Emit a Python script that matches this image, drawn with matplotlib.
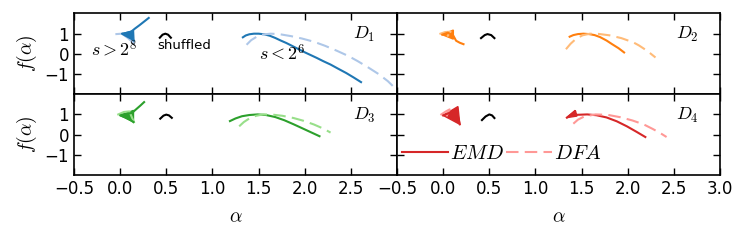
import matplotlib
matplotlib.use("Agg")
import matplotlib.pyplot as plt
from matplotlib.lines import Line2D

plt.rcParams['mathtext.fontset'] = 'cm'
plt.rcParams['font.family'] = ['DejaVu Sans']

panel_names = ["$D_1$", "$D_2$", "$D_3$", "$D_4$"]
emd_colors = ["#1f77b4", "#ff7f0e", "#2ca02c", "#d62728"]
dfa_colors = ["#aec7e8", "#ffbb78", "#98df8a", "#ff9896"]

# small-scale spectra (s < 2^6), EMD solid
emd_alpha = [
    [1.33, 1.36, 1.40, 1.45, 1.50, 1.56, 1.62, 1.68, 1.74, 1.80, 1.87, 1.93,
     1.99, 2.06, 2.13, 2.20, 2.28, 2.36, 2.45, 2.53, 2.61],
    [1.37, 1.41, 1.46, 1.52, 1.58, 1.64, 1.70, 1.77, 1.83, 1.90, 1.96],
    [1.19, 1.25, 1.32, 1.40, 1.49, 1.58, 1.68, 1.78, 1.88, 1.98, 2.07, 2.16],
    [1.34, 1.43, 1.42, 1.45, 1.56, 1.66, 1.77, 1.88, 1.99, 2.09, 2.19],
]
emd_f = [
    [0.82, 0.91, 0.97, 1.00, 1.00, 0.97, 0.90, 0.79, 0.66, 0.54, 0.38, 0.24,
     0.10, -0.05, -0.20, -0.36, -0.53, -0.73, -0.95, -1.17, -1.40],
    [0.85, 0.93, 0.98, 1.00, 0.98, 0.93, 0.83, 0.66, 0.48, 0.28, 0.07],
    [0.67, 0.80, 0.91, 0.97, 1.00, 0.97, 0.87, 0.71, 0.51, 0.30, 0.11, -0.08],
    [0.84, 1.16, 0.95, 0.98, 1.00, 0.96, 0.85, 0.66, 0.41, 0.15, -0.12],
]
# DFA dashed
dfa_alpha = [
    [1.37, 1.42, 1.48, 1.55, 1.63, 1.72, 1.85, 1.97, 2.10, 2.22, 2.35, 2.47,
     2.57, 2.68, 2.80, 2.90, 2.99],
    [1.33, 1.38, 1.44, 1.51, 1.59, 1.68, 1.80, 1.93, 2.06, 2.12, 2.18, 2.24,
     2.30],
    [1.29, 1.34, 1.40, 1.47, 1.55, 1.65, 1.76, 1.88, 1.99, 2.10, 2.20, 2.28],
    [1.41, 1.46, 1.53, 1.65, 1.78, 1.92, 2.05, 2.17, 2.27, 2.35, 2.42],
]
dfa_f = [
    [0.45, 0.68, 0.85, 0.96, 1.00, 0.98, 0.88, 0.76, 0.60, 0.40, 0.15, -0.10,
     -0.35, -0.65, -1.00, -1.35, -1.75],
    [0.23, 0.50, 0.75, 0.92, 1.00, 0.99, 0.92, 0.78, 0.57, 0.42, 0.24, 0.04,
     -0.18],
    [0.41, 0.62, 0.80, 0.93, 1.00, 0.99, 0.93, 0.82, 0.68, 0.50, 0.30, 0.10],
    [0.54, 0.74, 0.90, 1.00, 0.98, 0.86, 0.70, 0.51, 0.28, 0.08, -0.12],
]

# large-scale spectra (s > 2^8)
big_emd_alpha = [
    [0.31, 0.26, 0.21, 0.16, 0.12, 0.07, 0.04, 0.02, 0.06, 0.10, 0.14, 0.15],
    [-0.01, 0.05, 0.11, 0.14, 0.18, 0.22],
    [0.26, 0.22, 0.18, 0.13, 0.08, 0.04, 0.00, 0.06, 0.11, 0.145],
    [0.00, 0.08, 0.16, 0.17, 0.18],
]
big_emd_f = [
    [1.78, 1.60, 1.42, 1.25, 1.10, 1.04, 1.01, 1.00, 0.90, 0.80, 0.70, 0.65],
    [0.95, 1.05, 0.90, 0.65, 0.55, 0.48],
    [1.61, 1.44, 1.28, 1.08, 1.03, 1.00, 0.95, 0.85, 0.73, 0.62],
    [0.95, 1.10, 0.90, 0.70, 0.51],
]
# filled fans of overlapping EMD spectra
fan_alpha = [
    [0.02, 0.145, 0.15],
    [-0.01, 0.11, 0.11],
    [0.00, 0.145, 0.145],
    [0.00, 0.16, 0.18],
    [1.34, 1.43, 1.45],
]
fan_f = [
    [1.00, 1.15, 0.65],
    [0.95, 1.18, 0.73],
    [0.95, 1.20, 0.62],
    [0.95, 1.39, 0.51],
    [0.84, 1.20, 0.92],
]
fan_panel = [0, 1, 2, 3, 3]
big_dfa_alpha = [
    [-0.04, 0.02, 0.08, 0.15],
    [-0.03, 0.02, 0.08, 0.05],
    [-0.02, 0.04, 0.10, 0.15],
    [-0.02, 0.03, 0.07, 0.04],
]
big_dfa_f = [
    [0.98, 1.00, 0.80, 0.52],
    [1.00, 1.08, 1.10, 0.90],
    [1.00, 1.12, 1.15, 0.62],
    [1.00, 1.15, 1.25, 0.95],
]
# shuffled spectra
shuf_alpha = [
    [0.43, 0.46, 0.49, 0.52, 0.55],
    [0.41, 0.45, 0.48, 0.52, 0.555],
    [0.435, 0.47, 0.50, 0.53, 0.56],
    [0.42, 0.46, 0.50, 0.53, 0.555],
]
shuf_f = [
    [0.80, 0.95, 1.00, 0.95, 0.80],
    [0.78, 0.93, 0.98, 0.93, 0.78],
    [0.79, 0.94, 0.99, 0.95, 0.83],
    [0.72, 0.90, 1.00, 0.95, 0.82],
]

xticks = [-0.5, 0.0, 0.5, 1.0, 1.5, 2.0, 2.5, 3.0]
yticks = [-1, 0, 1]

fig, axes = plt.subplots(2, 2, figsize=(7.47, 2.41), dpi=100)
fig.subplots_adjust(left=0.099, right=0.964, top=0.944, bottom=0.274,
                    wspace=0, hspace=0)
dash = (0, (6, 3))
axl = list(axes.flat)

for i, ax in enumerate(axl):
    r, c = divmod(i, 2)
    ax.plot(emd_alpha[i], emd_f[i], color=emd_colors[i], lw=1.5)
    ax.plot(dfa_alpha[i], dfa_f[i], color=dfa_colors[i], lw=1.5, ls=dash)
    ax.plot(big_dfa_alpha[i], big_dfa_f[i], color=dfa_colors[i], lw=1.5)
    ax.plot(big_emd_alpha[i], big_emd_f[i], color=emd_colors[i], lw=1.5)
    ax.plot(shuf_alpha[i], shuf_f[i], color='black', lw=1.5)
    ax.set_xlim(-0.5, 3.0)
    ax.set_ylim(-2, 2)
    ax.set_yticks(yticks)
    if c == 0:
        ax.set_xticks(xticks[:-1])
        ax.set_ylabel(r"$f(\alpha)$", fontsize=14)
    else:
        ax.set_xticks(xticks)
        ax.tick_params(labelleft=False)
    if r == 0:
        ax.tick_params(labelbottom=False)
    else:
        ax.set_xlabel(r"$\alpha$", fontsize=14, labelpad=7)
    ax.tick_params(direction='in', length=5, width=1, top=True, right=True,
                   labelsize=12)
    for s in ax.spines.values():
        s.set_linewidth(1.2)
    ax.text(2.52, 0.72, panel_names[i], fontsize=13, va='baseline')

for k, p in enumerate(fan_panel):
    axl[p].fill(fan_alpha[k], fan_f[k], color=emd_colors[p], lw=1.0)

ax1 = axes[0, 0]
ax1.text(-0.32, -0.12, r"$s>2^8$", fontsize=13, va='baseline')
ax1.text(1.51, -0.32, r"$s<2^6$", fontsize=13, va='baseline')
ax1.text(0.40, 0.23, "shuffled", fontsize=9.5, va='baseline')

ax4 = axes[1, 1]
handles = [Line2D([], [], color=emd_colors[3], lw=1.5),
           Line2D([], [], color=dfa_colors[3], lw=1.5, ls=dash)]
ax4.legend(handles, ["$EMD$", "$DFA$"], ncol=2, frameon=False,
           fontsize=15, handlelength=2.2, handletextpad=0.1,
           columnspacing=0.1, loc='center left',
           bbox_to_anchor=(-0.01, 0.27), borderaxespad=0)

fig.savefig("out.png", dpi=100)
